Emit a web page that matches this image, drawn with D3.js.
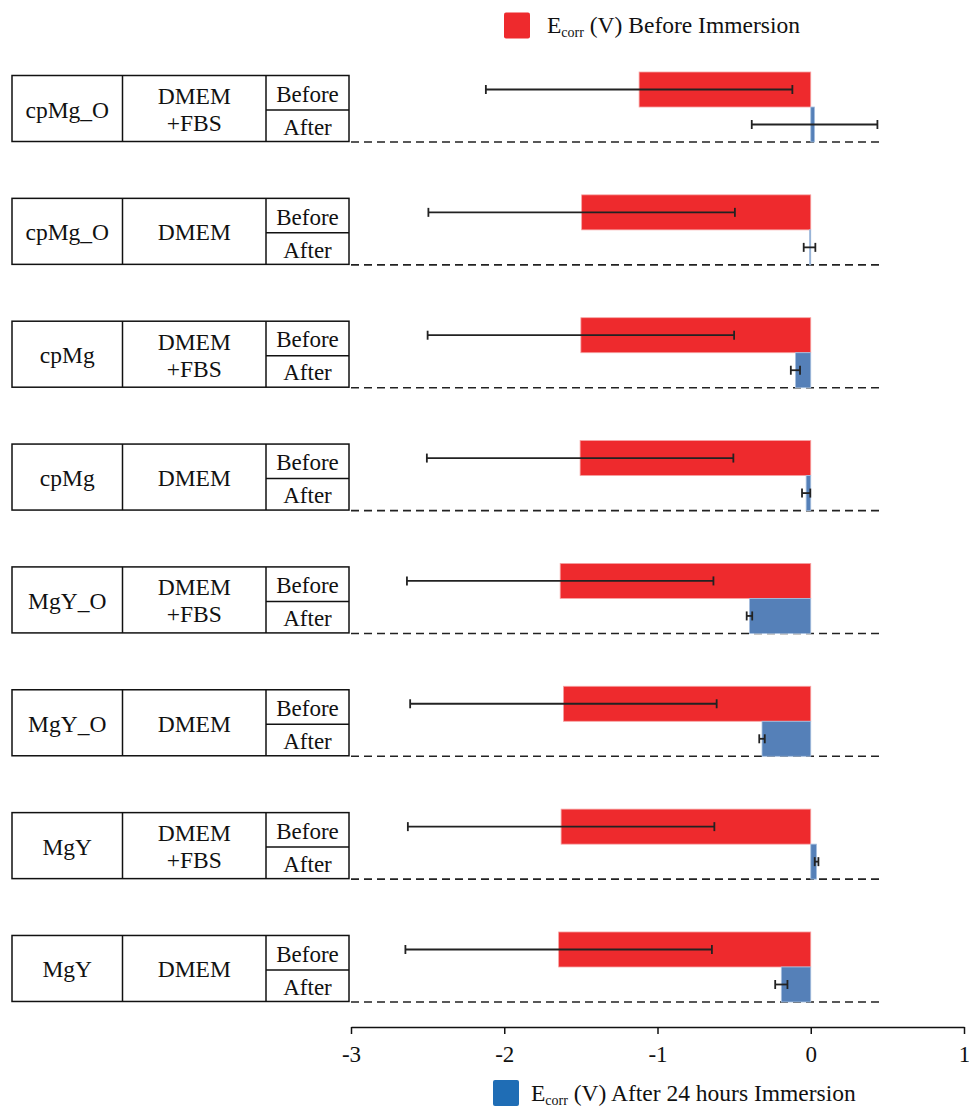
<!DOCTYPE html>
<html>
<head>
<meta charset="utf-8">
<script src="https://cdn.jsdelivr.net/npm/d3@7"></script>
<style>
  html, body { margin: 0; padding: 0; background: #fff; }
  svg { display: block; font-family: "Liberation Serif", "Times New Roman", serif; }
</style>
</head>
<body>
<svg id="chart" width="969" height="1111"></svg>
<script>
// Samples, media and phases (top to bottom)
const samples = ["cpMg_O", "cpMg_O", "cpMg", "cpMg", "MgY_O", "MgY_O", "MgY", "MgY"];
const media = [["DMEM", "+FBS"], ["DMEM"], ["DMEM", "+FBS"], ["DMEM"],
               ["DMEM", "+FBS"], ["DMEM"], ["DMEM", "+FBS"], ["DMEM"]];
const phases = ["Before", "After"];

// Ecorr (V) before immersion and after 24 h immersion, with error half-widths
const beforeValues = [-1.12, -1.495, -1.50, -1.505, -1.635, -1.614, -1.629, -1.645];
const beforeErrors = [1.0, 1.0, 1.0, 1.0, 1.0, 1.0, 1.0, 1.0];
const afterValues  = [0.025, -0.008, -0.10, -0.03, -0.40, -0.318, 0.038, -0.192];
const afterErrors  = [0.41, 0.038, 0.03, 0.027, 0.018, 0.018, 0.012, 0.04];

const xTicks = [-3, -2, -1, 0, 1];
const legendBefore = { main: "E", sub: "corr", rest: " (V) Before Immersion" };
const legendAfter  = { main: "E", sub: "corr", rest: " (V) After 24 hours Immersion" };

const RED = "#ee2a2d", RED_EDGE = "#f6a4a4";
const BLUE = "#5580b8", BLUE_EDGE = "#a8c0df";
const BLUE_KEY = "#1f6db5";
const INK = "#111";

const svg = d3.select("#chart");

const x = d3.scaleLinear().domain([-3, 1]).range([351, 964]);
const dashEnd = 0.45;

const groups = d3.range(samples.length);
const y = d3.scaleBand().domain(groups).range([72, 1002])
  .paddingInner(0.43).paddingOuter(0).align(0);
const yPhase = d3.scaleBand().domain(phases).range([0, y.bandwidth()]);

const rows = groups.map(i => ({
  i,
  sample: samples[i],
  medium: media[i],
  bars: [
    { phase: "Before", value: beforeValues[i], err: beforeErrors[i], fill: RED, edge: RED_EDGE },
    { phase: "After", value: afterValues[i], err: afterErrors[i], fill: BLUE, edge: BLUE_EDGE }
  ]
}));

// Left-hand table
const colX = [12, 122.5, 266, 349];
const FS = 23.5;
const table = svg.append("g").attr("class", "table");
rows.forEach(r => {
  const top = y(r.i) + 3.5, bottom = y(r.i) + 69.5, mid = y(r.i) + 38;
  const g = table.append("g");
  g.append("rect").attr("x", colX[0]).attr("y", top)
    .attr("width", colX[3] - colX[0]).attr("height", bottom - top)
    .attr("fill", "none").attr("stroke", INK).attr("stroke-width", 1.5);
  [colX[1], colX[2]].forEach(cx => g.append("line")
    .attr("x1", cx).attr("x2", cx).attr("y1", top).attr("y2", bottom)
    .attr("stroke", INK).attr("stroke-width", 1.5));
  g.append("line").attr("x1", colX[2]).attr("x2", colX[3]).attr("y1", mid).attr("y2", mid)
    .attr("stroke", INK).attr("stroke-width", 1.5);

  const cy = (top + bottom) / 2;
  g.append("text").attr("x", (colX[0] + colX[1]) / 2).attr("y", cy + 1)
    .attr("text-anchor", "middle").attr("dominant-baseline", "central")
    .attr("font-size", FS).attr("fill", INK).text(r.sample);

  const lines = r.medium;
  lines.forEach((t, k) => {
    const off = lines.length === 1 ? 1 : (k === 0 ? -12.5 : 14.5);
    g.append("text").attr("x", (colX[1] + colX[2]) / 2).attr("y", cy + off)
      .attr("text-anchor", "middle").attr("dominant-baseline", "central")
      .attr("font-size", FS).attr("fill", INK).text(t);
  });

  g.append("text").attr("x", (colX[2] + colX[3]) / 2).attr("y", (top + mid) / 2 + 1.5)
    .attr("text-anchor", "middle").attr("dominant-baseline", "central")
    .attr("font-size", FS - 0.5).attr("fill", INK).text("Before");
  g.append("text").attr("x", (colX[2] + colX[3]) / 2).attr("y", (mid + bottom) / 2 + 1.5)
    .attr("text-anchor", "middle").attr("dominant-baseline", "central")
    .attr("font-size", FS - 0.5).attr("fill", INK).text("After");
});

// Bars
const plot = svg.append("g").attr("class", "plot");
const groupSel = plot.selectAll("g.group").data(rows).join("g")
  .attr("class", "group")
  .attr("transform", d => `translate(0,${y(d.i)})`);

groupSel.append("line")
  .attr("x1", x(-3)).attr("x2", x(dashEnd))
  .attr("y1", y.bandwidth()).attr("y2", y.bandwidth())
  .attr("stroke", "#222").attr("stroke-width", 1.6)
  .attr("stroke-dasharray", "8,5");

groupSel.selectAll("rect.bar").data(d => d.bars).join("rect")
  .attr("class", "bar")
  .attr("x", d => x(Math.min(0, d.value)))
  .attr("width", d => Math.abs(x(d.value) - x(0)))
  .attr("y", d => yPhase(d.phase))
  .attr("height", yPhase.bandwidth())
  .attr("fill", d => d.fill)
  .attr("stroke", d => d.edge).attr("stroke-width", 0.8);

// Error bars
const eb = groupSel.selectAll("g.err").data(d => d.bars).join("g").attr("class", "err")
  .attr("transform", d => `translate(0,${yPhase(d.phase) + yPhase.bandwidth() / 2})`);
eb.append("line")
  .attr("x1", d => x(d.value - d.err)).attr("x2", d => x(d.value + d.err))
  .attr("y1", 0).attr("y2", 0)
  .attr("stroke", "#222").attr("stroke-width", 1.8);
eb.append("line")
  .attr("x1", d => x(d.value - d.err)).attr("x2", d => x(d.value - d.err))
  .attr("y1", -4.5).attr("y2", 4.5).attr("stroke", "#222").attr("stroke-width", 1.8);
eb.append("line")
  .attr("x1", d => x(d.value + d.err)).attr("x2", d => x(d.value + d.err))
  .attr("y1", -4.5).attr("y2", 4.5).attr("stroke", "#222").attr("stroke-width", 1.8);

// X axis
const axis = svg.append("g").attr("transform", "translate(0,1027)")
  .call(d3.axisBottom(x).tickValues(xTicks).tickFormat(d3.format("d"))
    .tickSize(7).tickSizeOuter(0).tickPadding(12));
axis.select(".domain").attr("stroke", INK).attr("stroke-width", 1.5);
axis.selectAll(".tick line").attr("stroke", INK).attr("stroke-width", 1.5);
axis.selectAll(".tick text")
  .attr("font-family", "'Liberation Serif', 'Times New Roman', serif")
  .attr("font-size", 23).attr("fill", INK)
  .text(d => d < 0 ? "-" + Math.abs(d) : String(d));

// Legends
function legend(cfg, sx, sy, color, tx, ty) {
  const g = svg.append("g");
  g.append("rect").attr("x", sx).attr("y", sy).attr("width", 26).attr("height", 26)
    .attr("rx", 2).attr("fill", color);
  const t = g.append("text").attr("x", tx).attr("y", ty)
    .attr("font-size", 23.5).attr("fill", INK);
  t.append("tspan").text(cfg.main);
  t.append("tspan").attr("font-size", 14).attr("dy", 4).text(cfg.sub);
  t.append("tspan").attr("dy", -4).text(cfg.rest);
}
legend(legendBefore, 504, 12.5, RED, 547, 33);
legend(legendAfter, 493, 1080, BLUE_KEY, 531, 1101);
</script>
</body>
</html>
